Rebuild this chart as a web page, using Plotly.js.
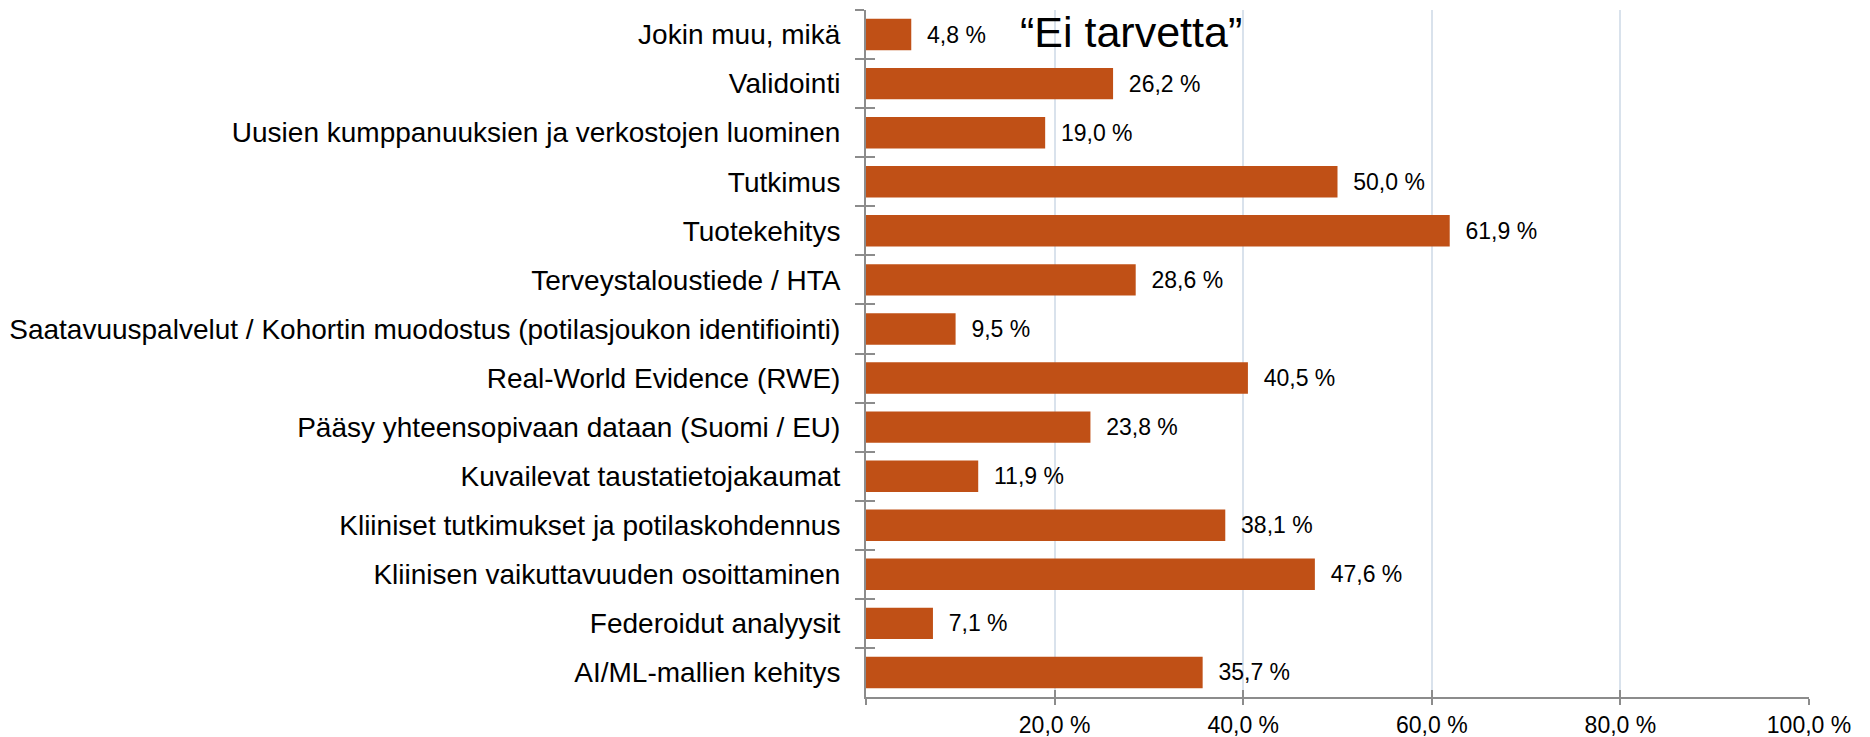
<!DOCTYPE html>
<html><head><meta charset="utf-8">
<script src="https://cdn.plot.ly/plotly-3.0.1.min.js"></script>
<style>html,body{margin:0;padding:0;background:#fff}</style>
</head><body>
<div id="chart" style="width:1870px;height:737px"></div>
<script>
const categories = [
  "Jokin muu, mikä",
  "Validointi",
  "Uusien kumppanuuksien ja verkostojen luominen",
  "Tutkimus",
  "Tuotekehitys",
  "Terveystaloustiede / HTA",
  "Saatavuuspalvelut / Kohortin muodostus (potilasjoukon identifiointi)",
  "Real-World Evidence (RWE)",
  "Pääsy yhteensopivaan dataan (Suomi / EU)",
  "Kuvailevat taustatietojakaumat",
  "Kliiniset tutkimukset ja potilaskohdennus",
  "Kliinisen vaikuttavuuden osoittaminen",
  "Federoidut analyysit",
  "AI/ML-mallien kehitys"
];
const values = [4.8, 26.2, 19.0, 50.0, 61.9, 28.6, 9.5, 40.5, 23.8, 11.9, 38.1, 47.6, 7.1, 35.7];
const tickValues = [0, 20, 40, 60, 80, 100];
const tickLabels = ["", "20,0 %", "40,0 %", "60,0 %", "80,0 %", "100,0 %"];
const chartTitle = "“Ei tarvetta”";

const barColor = "#C05016";
const axisColor = "#8C8C8C";
const gridColor = "#D9E2EC";

const traces = [
  {
    type: "bar", orientation: "h",
    x: values, y: categories,
    marker: {color: barColor},
    texttemplate: "  %{x:.1f} %", textposition: "outside", cliponaxis: false,
    textfont: {family: "Liberation Sans, Arial, sans-serif", size: 23, color: "#000"},
    hoverinfo: "skip", xaxis: "x", yaxis: "y"
  },
  {
    type: "bar", orientation: "h",
    x: values, y: categories,
    marker: {color: "rgba(0,0,0,0)"},
    hoverinfo: "skip", xaxis: "x2", yaxis: "y2", showlegend: false
  }
];

const layout = {
  width: 1870, height: 737,
  margin: {l: 866, r: 61, t: 10, b: 40},
  paper_bgcolor: "#fff", plot_bgcolor: "#fff",
  separators: ", ",
  showlegend: false,
  bargap: 0.36,
  font: {family: "Liberation Sans, Arial, sans-serif", color: "#000"},
  xaxis: {
    range: [0, 100], tickvals: tickValues, ticktext: tickLabels,
    showgrid: true, gridcolor: gridColor, gridwidth: 2,
    zeroline: false, showline: true, linecolor: axisColor, linewidth: 2,
    ticks: "outside", ticklen: 6, tickcolor: axisColor, tickwidth: 2,
    tickfont: {size: 23, family: "Liberation Sans, Arial, sans-serif"},
    fixedrange: true
  },
  xaxis2: {
    overlaying: "x", matches: "x", range: [0, 100], tickvals: tickValues,
    showticklabels: false, showgrid: false, zeroline: false, showline: false,
    ticks: "inside", ticklen: 7, tickcolor: axisColor, tickwidth: 2, side: "bottom"
  },
  yaxis: {
    autorange: "reversed", type: "category",
    showline: true, linecolor: axisColor, linewidth: 2,
    ticks: "outside", tickson: "boundaries", ticklen: 9, tickcolor: axisColor, tickwidth: 2,
    ticklabelstandoff: 18,
    showgrid: false, zeroline: false,
    tickfont: {size: 28, family: "Liberation Sans, Arial, sans-serif"},
    fixedrange: true
  },
  yaxis2: {
    overlaying: "y", matches: "y", type: "category", side: "left",
    showticklabels: false, showgrid: false, zeroline: false, showline: false,
    ticks: "inside", tickson: "boundaries", ticklen: 9, tickcolor: axisColor, tickwidth: 2
  },
  annotations: [{
    text: chartTitle, xref: "x", yref: "y", x: 28.1, y: categories[0],
    xanchor: "center", yanchor: "middle", yshift: 3, showarrow: false,
    font: {size: 43, family: "Liberation Sans, Arial, sans-serif", color: "#000"}
  }]
};

Plotly.newPlot("chart", traces, layout, {displayModeBar: false, staticPlot: true});
</script>
</body></html>
